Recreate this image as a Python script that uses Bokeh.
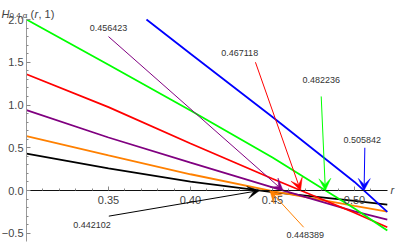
from bokeh.plotting import figure
from bokeh.models import FixedTicker, Label, Arrow, VeeHead
from bokeh.embed import file_html
from bokeh.resources import INLINE

# ---- data ----
r = [0.30, 0.35, 0.40, 0.45, 0.50, 0.52]
h_black = [0.43, 0.26, 0.105, -0.018, -0.122, -0.164]
h_orange = [0.635, 0.41, 0.19, -0.006, -0.18, -0.246]
h_purple = [0.94, 0.62, 0.325, 0.036, -0.245, -0.34]
h_red = [1.36, 0.975, 0.55, 0.137, -0.26, -0.43]
h_green = [2.0, 1.47, 0.935, 0.385, -0.21, -0.468]
h_blue = [3.05, 2.345, 1.6, 0.86, 0.10, -0.25]

crossings = [0.442102, 0.448389, 0.456423, 0.467118, 0.482236, 0.505842]

x_major = [0.35, 0.40, 0.45, 0.50]
x_labels = ["0.35", "0.40", "0.45", "0.50"]
x_minor = [0.31, 0.32, 0.33, 0.34, 0.36, 0.37, 0.38, 0.39, 0.41, 0.42, 0.43,
           0.44, 0.46, 0.47, 0.48, 0.49, 0.51]
y_major = [-0.5, 0.0, 0.5, 1.0, 1.5, 2.0]
y_labels = ["\u22120.5", "0.0", "0.5", "1.0", "1.5", "2.0"]
y_minor = [-0.4, -0.3, -0.2, -0.1, 0.1, 0.2, 0.3, 0.4, 0.6, 0.7, 0.8, 0.9,
           1.1, 1.2, 1.3, 1.4, 1.6, 1.7, 1.8, 1.9]

# plot range shown by the reference axes
X_MIN, X_MAX = 0.30, 0.5201
Y_MIN, Y_MAX = -0.596, 2.0

# ---- styles / layout ----
series = [h_black, h_orange, h_purple, h_red, h_green, h_blue]
colors = ["#000000", "#FF8000", "#800080", "#FF0000", "#00FF00", "#0000FF"]
label_x = [0.340, 0.470, 0.350, 0.430, 0.4797, 0.5047]
label_y = [-0.40, -0.526, 1.895, 1.606, 1.298, 0.596]
tail_x = [0.3502, 0.469, 0.350, 0.4396, 0.4797, 0.5063]
tail_y = [-0.30, -0.43, 1.80, 1.50, 1.10, 0.50]

FONT = "Liberation Sans"
TICK_COLOR = "#444444"
W, H = 399, 243
LEFT, TOP = 26, 19           # pixel position of the axes origin corner
PX_X, PX_Y = 1640.0, 85.5    # pixels per data unit

x_lo = X_MIN - LEFT / PX_X
x_hi = X_MIN + (W - LEFT) / PX_X
y_hi = Y_MAX + TOP / PX_Y
y_lo = Y_MAX - (H - TOP) / PX_Y

p = figure(width=W, height=H, x_range=(x_lo, x_hi), y_range=(y_lo, y_hi),
           output_backend="svg", toolbar_location=None,
           min_border_left=0, min_border_right=0, min_border_top=0,
           min_border_bottom=0)
p.grid.visible = False
p.outline_line_color = None
p.background_fill_color = "white"
p.border_fill_color = "white"

p.xaxis.fixed_location = 0
p.yaxis.fixed_location = X_MIN
p.xaxis.bounds = (X_MIN, X_MAX)
p.yaxis.bounds = (Y_MIN, Y_MAX)

for ax, maj, mnr, labs in ((p.xaxis[0], x_major, x_minor, x_labels),
                           (p.yaxis[0], y_major, y_minor, y_labels)):
    ax.ticker = FixedTicker(ticks=maj, minor_ticks=mnr)
    ax.major_label_overrides = {t: s for t, s in zip(maj, labs)}
    ax.major_tick_in = 4
    ax.major_tick_out = 0
    ax.minor_tick_in = 2
    ax.minor_tick_out = 0
    ax.major_tick_line_color = "#888888"
    ax.minor_tick_line_color = "#888888"
    ax.major_label_text_font = FONT
    ax.major_label_text_font_size = "11px"
    ax.major_label_text_color = TICK_COLOR

p.xaxis.axis_line_color = "#111111"
p.xaxis.axis_line_width = 1.2
p.xaxis.major_label_standoff = 5
p.yaxis.axis_line_color = "#999999"
p.yaxis.major_label_standoff = 3


def clip_above(xs, ys, top):
    """Cut a polyline where it leaves the top of the plot range."""
    out_x, out_y = [], []
    for i in range(len(xs)):
        if ys[i] <= top:
            if i > 0 and ys[i - 1] > top:
                t = (ys[i - 1] - top) / (ys[i - 1] - ys[i])
                out_x.append(xs[i - 1] + t * (xs[i] - xs[i - 1]))
                out_y.append(top)
            out_x.append(xs[i])
            out_y.append(ys[i])
    return out_x, out_y


for ys, c in zip(series, colors):
    cx, cy = clip_above(r, ys, Y_MAX)
    p.line(cx, cy, line_color=c, line_width=1.8)

for xc, c, lx, ly, tx, ty in zip(crossings, colors, label_x, label_y, tail_x, tail_y):
    p.add_layout(Arrow(end=VeeHead(size=12, fill_color=c, line_color=c, line_width=0.5),
                       x_start=tx, y_start=ty, x_end=xc, y_end=0.0,
                       line_color=c, line_width=1.0))
    p.add_layout(Label(x=lx, y=ly, text=f"{xc:.6f}", text_font=FONT,
                       text_font_size="9px", text_color="#333333",
                       text_align="center", text_baseline="middle"))

# axis labels (Mathematica style: at the axis ends)
p.add_layout(Label(x=X_MAX, y=0.0, x_offset=3, y_offset=1, text="r", text_font=FONT,
                   text_font_style="italic", text_font_size="11px",
                   text_color=TICK_COLOR, text_baseline="middle"))
p.add_layout(Label(x=X_MIN, y=Y_MAX, x_offset=-25, y_offset=6, text="H", text_font=FONT,
                   text_font_style="italic", text_font_size="11px",
                   text_color=TICK_COLOR, text_baseline="alphabetic"))
p.add_layout(Label(x=X_MIN, y=Y_MAX, x_offset=-17, y_offset=4, text="0.4,\u03b1", text_font=FONT,
                   text_font_size="8px", text_color=TICK_COLOR, text_baseline="alphabetic"))
p.add_layout(Label(x=X_MIN, y=Y_MAX, x_offset=4, y_offset=6, text="(", text_font=FONT,
                   text_font_size="11px", text_color=TICK_COLOR, text_baseline="alphabetic"))
p.add_layout(Label(x=X_MIN, y=Y_MAX, x_offset=8, y_offset=6, text="r", text_font=FONT,
                   text_font_style="italic", text_font_size="11px",
                   text_color=TICK_COLOR, text_baseline="alphabetic"))
p.add_layout(Label(x=X_MIN, y=Y_MAX, x_offset=12, y_offset=6, text=", 1)", text_font=FONT,
                   text_font_size="11px", text_color=TICK_COLOR, text_baseline="alphabetic"))

open("out.html", "w").write(file_html(p, INLINE))
